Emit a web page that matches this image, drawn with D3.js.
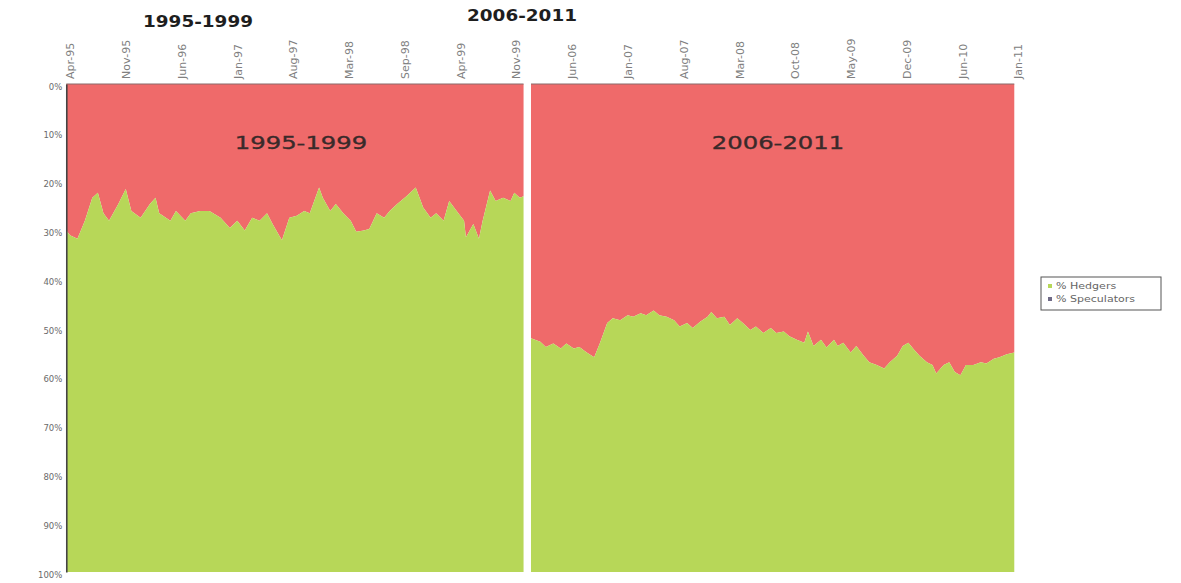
<!DOCTYPE html>
<html><head><meta charset="utf-8">
<script src="https://cdn.jsdelivr.net/npm/d3@7"></script>
<style>body{margin:0;background:#fff;}svg{display:block;}</style>
</head><body>
<svg id="c" width="1181" height="583"></svg>
<script>
// Top axis labels (one every 30 weekly categories)
const tickLabels = ["Apr-95","Nov-95","Jun-96","Jan-97","Aug-97","Mar-98","Sep-98","Apr-99","Nov-99",
                    "Jun-06","Jan-07","Aug-07","Mar-08","Oct-08","May-09","Dec-09","Jun-10","Jan-11"];
const yTicks = [0,10,20,30,40,50,60,70,80,90,100];
const periods = ["1995-1999","2006-2011"];
const seriesNames = ["% Hedgers","% Speculators"];

// Period 1 (1995-1999): week index, % speculators (top band)
const weeks1 = [-2,0,4,8,12,15,18,21,26,30,33,38,43,46,48,54,57,62,65,70,75,81,86,90,94,98,102,106,109,114,118,122,126,129,134,136,140,143,147,151,154,158,161,165,169,172,176,181,186,190,194,197,201,204,208,212,213,217,220,222,226,229,233,237,239,242,244];
const spec1  = [30,31,31.7,28,23.3,22.3,26.5,28,24.6,21.5,26,27.4,24.6,23.3,26.5,28,26,28,26.5,26,26,27.4,29.5,28,30,27.4,28,26.5,28.7,32,27.4,27,26,26.5,21.2,23.3,26,24.6,26.5,28,30.3,30,29.7,26.5,27.4,26,24.6,23,21.2,25.3,27.4,26.5,28,24,26,28,31.4,28.7,31.7,28,21.8,24,23.3,24,22.3,23.3,23];

// Period 2 (2006-2011)
const weeks2 = [248,253,256,260,264,267,271,274,278,282,285,289,292,296,300,303,307,310,314,317,321,325,328,332,335,339,343,345,348,352,355,359,362,366,369,373,377,380,384,387,391,395,397,400,404,407,411,413,416,420,423,427,430,434,438,441,445,448,451,454,457,461,464,466,470,473,476,479,482,486,490,493,497,500,504,508];
const spec2  = [52.1,52.8,53.9,53.2,54.2,53.2,54.2,53.9,55,56,53.2,49,48,48.4,47.4,47.7,47,47.4,46.4,47.4,47.7,48.4,49.7,49,50,48.7,47.7,46.7,48,47.7,49.4,48,49,50.4,49.7,51,50,51,50.7,51.7,52.4,53,50.7,53.7,52.4,54,52.4,53.7,53,55,53.7,55.7,57,57.6,58.3,57,55.7,53.7,53,54.4,55.7,57,57.6,59.3,57.6,57,59,59.7,57.6,57.6,57,57.3,56.3,56,55.4,55];

const svg = d3.select("#c");
const RED = "#ef6a6a", GREEN = "#b7d758";
const x = d3.scaleLinear().domain([0, 510]).range([70, 1018]);
const y = d3.scaleLinear().domain([0, 100]).range([84, 572]);

function drawPeriod(weeks, spec) {
  const data = weeks.map((w,i)=>({w, s: spec[i]}));
  const areaSpec = d3.area().x(d=>x(d.w)).y0(y(0)).y1(d=>y(d.s));
  const areaHedge = d3.area().x(d=>x(d.w)).y0(d=>y(d.s)).y1(y(100));
  svg.append("path").datum(data).attr("d", areaSpec).attr("fill", RED);
  svg.append("path").datum(data).attr("d", areaHedge).attr("fill", GREEN);
  svg.append("line").attr("x1", x(weeks[0])).attr("x2", x(weeks[weeks.length-1]))
     .attr("y1", y(0)).attr("y2", y(0)).attr("stroke", "#8a6a6a").attr("stroke-width", 1.2);
}
drawPeriod(weeks1, spec1);
drawPeriod(weeks2, spec2);

// left axis
const yAxis = d3.axisLeft(y).tickValues(yTicks).tickFormat(d=>d+"%").tickSize(0).tickPadding(4);
const ga = svg.append("g").attr("transform", `translate(${x(-2)},0)`).call(yAxis);
ga.select(".domain").attr("stroke", "#444").attr("stroke-width", 1.6);
ga.selectAll("text").attr("font-family", "DejaVu Sans").attr("font-size", 8.5).attr("fill", "#6a6a6a").attr("dy", "0.6em");

// top axis
const xTop = d3.axisTop(x).tickValues(d3.range(0, 511, 30)).tickFormat((d,i)=>tickLabels[i]).tickSize(0).tickPadding(6);
const gt = svg.append("g").attr("transform", "translate(0,79)").call(xTop);
gt.select(".domain").remove();
gt.selectAll(".tick text").attr("font-family", "DejaVu Sans").attr("font-size", 11).attr("fill", "#808080")
  .attr("text-anchor", "start").attr("x", 0).attr("y", 0).attr("dy", "0.35em")
  .attr("transform", "rotate(-90)");

function title(txt, cx, by, size, weight, sx, fill, sw) {
  svg.append("g").attr("transform", `translate(${cx},${by}) scale(${sx},1)`)
    .append("text").attr("text-anchor", "middle")
    .attr("font-family", "DejaVu Sans").attr("font-weight", weight).attr("font-size", size)
    .attr("fill", fill).attr("stroke", fill).attr("stroke-width", sw).text(txt);
}
// titles above
title(periods[0], 198, 27, 16, "bold", 1.15, "#1e1e1e", 0);
title(periods[1], 522, 21, 16, "bold", 1.15, "#1e1e1e", 0);
// titles inside panels
title(periods[0], 301, 149, 18, "normal", 1.35, "#3a2a2a", 0.35);
title(periods[1], 778, 149, 18, "normal", 1.35, "#3a2a2a", 0.35);

// legend
const lg = svg.append("g").attr("transform", "translate(1041,277)");
lg.append("rect").attr("width", 120).attr("height", 33).attr("fill", "#fff").attr("stroke", "#555").attr("stroke-width", 1);
[GREEN, "#6f6a86"].forEach((c,i)=>{
  lg.append("rect").attr("x", 7).attr("y", 7 + i*13).attr("width", 4).attr("height", 4).attr("fill", c);
  lg.append("g").attr("transform", `translate(15,${12 + i*13}) scale(1.3,1)`)
    .append("text").attr("font-family", "DejaVu Sans").attr("font-size", 8.5)
    .attr("fill", "#666").text(seriesNames[i]);
});
</script>
</body></html>
